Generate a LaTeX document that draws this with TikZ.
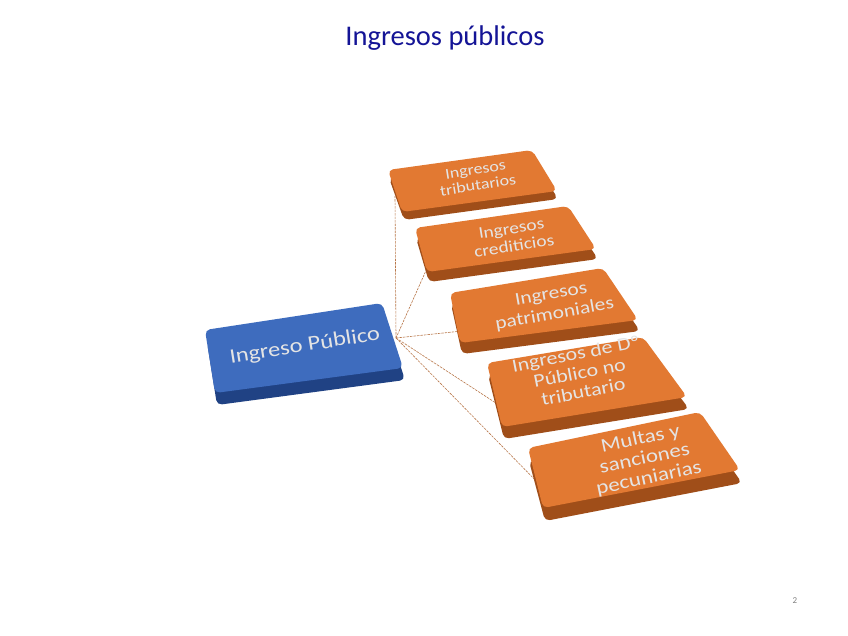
\documentclass[tikz,border=0pt]{standalone}
\usepackage{fontspec}
\setmainfont{Carlito}
\usepackage{graphicx}
\definecolor{titleblue}{RGB}{20,20,150}
\definecolor{org}{RGB}{226,121,50}
\definecolor{orgdark}{RGB}{160,78,25}
\definecolor{blu}{RGB}{62,108,190}
\definecolor{bludark}{RGB}{32,66,132}
\definecolor{lnk}{RGB}{185,120,75}
\definecolor{txt}{RGB}{228,228,228}
\newcommand\boxtxt[3]{\fontsize{#1}{#2}\selectfont\scalebox{1}[0.84]{\begin{tabular}{@{}c@{}}#3\end{tabular}}}
\tikzset{
  topface/.style={fill=#1, rounded corners=5pt},
  sideface/.style={fill=#1, rounded corners=5pt},
  link/.style={draw=lnk, line width=0.6pt, dash pattern=on 2.5pt off 1pt},
  lbl/.style={text=txt, inner sep=0pt},
}
\begin{document}
\begin{tikzpicture}[x=1pt,y=-1pt]
\fill[white] (0,0) rectangle (848,636);
\useasboundingbox (0,0) rectangle (848,636);

\node[text=titleblue, font=\fontsize{28.5}{32}\selectfont] (title) at (445,38) {Ingresos públicos};
\node[text=gray, font=\fontsize{9}{10}\selectfont] (pg) at (795,601) {2};

% connector coordinates
\coordinate (p0) at (396,338);
\coordinate (e1) at (395,196);
\coordinate (e2) at (428,266);
\coordinate (e3) at (462,331);
\coordinate (e4) at (502,407);
\coordinate (e5) at (545,490);
\draw[link] (p0) -- (e1);
\draw[link] (p0) -- (e2);
\draw[link] (p0) -- (e3);
\draw[link] (p0) -- (e4);
\draw[link] (p0) -- (e5);

% blue box
\path[sideface=bludark] (207,342) -- (384,315) -- (405,380) -- (217,405) -- cycle;
\path[topface=blu] (205,330) -- (382,303) -- (403,368) -- (215,393) -- cycle;
\node[lbl, rotate=9] (root) at (305,347) {\boxtxt{24.5}{27}{Ingreso Público}};

% box 1
\path[sideface=orgdark] (389,178) -- (533,158) -- (558,199) -- (404,220) -- cycle;
\path[topface=org] (388,170) -- (532,150) -- (557,191) -- (402,212) -- cycle;
\node[lbl, rotate=9] (b1) at (477,179) {\boxtxt{18}{19}{Ingresos\\tributarios}};

% box 2
\path[sideface=orgdark] (416,238) -- (569,216) -- (598,259) -- (429,282) -- cycle;
\path[topface=org] (415,228) -- (568,206) -- (596,249) -- (427,272) -- cycle;
\node[lbl, rotate=9] (b2) at (513,239) {\boxtxt{19.5}{21}{Ingresos\\crediticios}};

% box 3
\path[sideface=orgdark] (451,304) -- (604,279) -- (640,331) -- (462,354) -- cycle;
\path[topface=org] (450,293) -- (603,268) -- (638,320) -- (460,343) -- cycle;
\node[lbl, rotate=10] (b3) at (553,305) {\boxtxt{21.5}{24}{Ingresos\\patrimoniales}};

% box 4
\path[sideface=orgdark] (488,375) -- (644,349) -- (689,409) -- (504,439) -- cycle;
\path[topface=org] (487,363) -- (643,337) -- (687,397) -- (502,427) -- cycle;
\node[lbl, rotate=11] (b4) at (580,375) {\boxtxt{22}{23}{Ingresos de Dº\\Público no\\tributario}};

% box 5
\path[sideface=orgdark] (529,461) -- (701,425) -- (742,483) -- (545,521) -- cycle;
\path[topface=org] (528,448) -- (700,412) -- (740,470) -- (543,508) -- cycle;
\node[lbl, rotate=12] (b5) at (645,460) {\boxtxt{23}{24}{Multas y\\sanciones\\pecuniarias}};
\end{tikzpicture}
\end{document}
